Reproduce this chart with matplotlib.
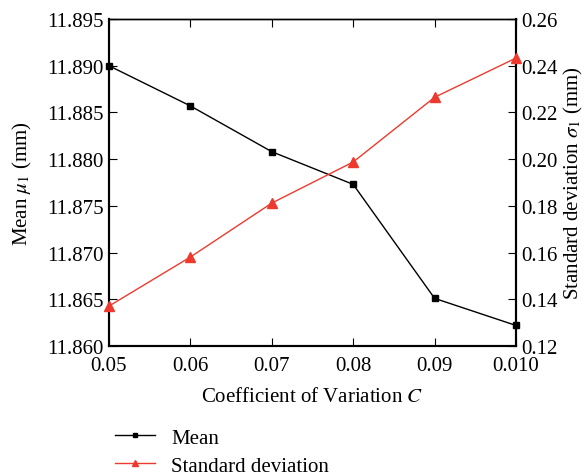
import matplotlib
matplotlib.use('Agg')
import matplotlib.pyplot as plt
import numpy as np

plt.rcParams['font.family'] = ['Liberation Serif', 'DejaVu Serif']
plt.rcParams['mathtext.fontset'] = 'stix'

cov_labels = ['0.05', '0.06', '0.07', '0.08', '0.09', '0.010']
mean_mu = [11.8900, 11.8857, 11.8808, 11.8773, 11.8651, 11.8622]
std_sigma = [0.1371, 0.1581, 0.1812, 0.1988, 0.2265, 0.2433]

red = '#ee3a2e'
fs = 15

fig = plt.figure(figsize=(5.84, 4.77), dpi=100)
ax = fig.add_axes([0.1866, 0.2725, 0.697, 0.6855])
ax2 = ax.twinx()

xx = np.arange(len(cov_labels))
l1, = ax.plot(xx, mean_mu, '-s', color='black', lw=1, ms=5, clip_on=False, zorder=5, label='Mean')
l2, = ax2.plot(xx, std_sigma, '-^', color=red, lw=1, ms=7, clip_on=False, zorder=5, label='Standard deviation')

ax.set_xlim(0, 5)
ax.set_ylim(11.860, 11.895)
ax2.set_ylim(0.12, 0.26)
ax.set_xticks(xx)
ax.set_xticklabels(cov_labels)
ax.set_yticks(np.arange(11.860, 11.8951, 0.005))
ax.set_yticklabels(['%.3f' % v for v in np.arange(11.860, 11.8951, 0.005)])
ax2.set_yticks(np.arange(0.12, 0.2601, 0.02))
ax2.set_yticklabels(['%.2f' % v for v in np.arange(0.12, 0.2601, 0.02)])

ax.tick_params(axis='x', direction='in', top=True, length=6, labelsize=fs, pad=7)
ax.tick_params(axis='y', direction='in', length=6, labelsize=fs, pad=4)
ax2.tick_params(axis='y', direction='in', length=6, labelsize=fs, pad=4)

for a in (ax, ax2):
    a.spines['top'].set_linewidth(1.0)
    for s in ('left', 'right', 'bottom'):
        a.spines[s].set_linewidth(1.5)

ax.set_xlabel('Coefficient of Variation $C$', fontsize=fs, labelpad=9)
ax.set_ylabel('Mean $\\mu_1$ (mm)', fontsize=fs, labelpad=9)
ax2.set_ylabel('Standard deviation $\\sigma_1$ (mm)', fontsize=fs, labelpad=3)

fig.legend(handles=[l1, l2], loc='upper left', bbox_to_anchor=(0.183, 0.118),
           frameon=False, fontsize=fs, handlelength=1.9, markerscale=0.65,
           labelspacing=0.4, handletextpad=0.8, borderaxespad=0)

fig.savefig('out.png', dpi=100)
